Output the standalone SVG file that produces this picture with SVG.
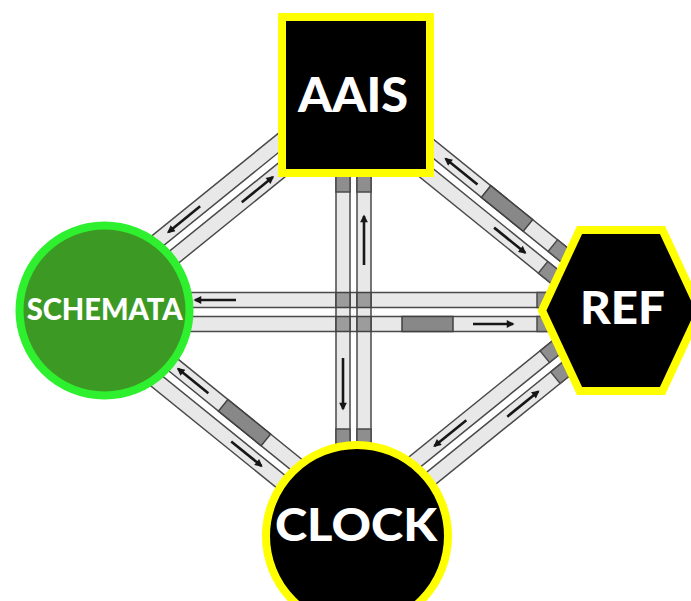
<svg xmlns="http://www.w3.org/2000/svg" width="691" height="601" viewBox="0 0 691 601">
<defs>
<style>
.lane{fill:#e8e8e8;stroke:#4a4a4a;stroke-width:1.5}
.cap{fill:#8e8e8e;stroke:#4a4a4a;stroke-width:1.5}
.blk{fill:#888888;stroke:#404040;stroke-width:1.5}
.xs{fill:#9c9c9c;stroke:#404040;stroke-width:1.5}
.arr{stroke:#161616;stroke-width:2.6;fill:none;marker-end:url(#ah)}
.lbl{font-family:Lato,"Open Sans","Liberation Sans",sans-serif;font-weight:900;fill:#ffffff;text-anchor:middle}
.ynode{fill:#000000;stroke:#ffff00;stroke-width:8}
</style>
<marker id="ah" viewBox="0 0 10 10" refX="8" refY="5" markerWidth="3.6" markerHeight="3" orient="auto">
<path d="M0,0 L10,5 L0,10 z" fill="#161616"/>
</marker>
</defs>
<rect width="691" height="601" fill="#ffffff"/>
<g id="connectors">
<g id="link-schemata-ref">
<rect class="lane" x="150" y="292.5" width="400" height="15"/>
<rect class="lane" x="150" y="316.5" width="400" height="15"/>
<rect class="cap" x="537" y="292.5" width="13" height="15"/>
<rect class="cap" x="537" y="316.5" width="13" height="15"/>
<rect class="blk" x="402" y="316.5" width="51" height="15"/>
<line class="arr" x1="236" y1="300" x2="195" y2="300"/>
<line class="arr" x1="473" y1="324" x2="513" y2="324"/>
</g>
<g id="link-aais-clock">
<rect class="lane" x="336" y="170" width="14" height="280"/>
<rect class="lane" x="357" y="170" width="14" height="280"/>
<rect class="cap" x="336" y="170" width="14" height="22"/>
<rect class="cap" x="357" y="170" width="14" height="22"/>
<rect class="cap" x="336" y="429" width="14" height="21"/>
<rect class="cap" x="357" y="429" width="14" height="21"/>
<rect class="xs" x="336" y="292.5" width="14" height="15"/>
<rect class="xs" x="357" y="292.5" width="14" height="15"/>
<rect class="xs" x="336" y="316.5" width="14" height="15"/>
<rect class="xs" x="357" y="316.5" width="14" height="15"/>
<line class="arr" x1="343" y1="358" x2="343" y2="409"/>
<line class="arr" x1="364" y1="265" x2="364" y2="216"/>
</g>
<g id="link-schemata-aais" transform="translate(104,299) rotate(-39)">
<rect class="lane" x="0" y="-19" width="324" height="15"/>
<rect class="lane" x="0" y="4" width="324" height="15"/>
<line class="arr" x1="133" y1="-11.5" x2="92" y2="-11.5"/>
<line class="arr" x1="168" y1="11.5" x2="208" y2="11.5"/>
</g>
<g id="link-aais-ref" transform="translate(356,101) rotate(39)">
<rect class="lane" x="0" y="-19" width="290" height="15"/>
<rect class="lane" x="0" y="4" width="290" height="15"/>
<rect class="cap" x="244" y="-19" width="46" height="15"/>
<rect class="cap" x="250" y="4" width="40" height="15"/>
<rect class="blk" x="158" y="-19" width="54" height="15"/>
<line class="arr" x1="147" y1="-11.5" x2="106" y2="-11.5"/>
<line class="arr" x1="187" y1="11.5" x2="227" y2="11.5"/>
</g>
<g id="link-schemata-clock" transform="translate(104,323.6) rotate(39)">
<rect class="lane" x="0" y="-19" width="326" height="15"/>
<rect class="lane" x="0" y="4" width="326" height="15"/>
<rect class="blk" x="144" y="-19" width="55" height="15"/>
<line class="arr" x1="125" y1="-11.5" x2="86" y2="-11.5"/>
<line class="arr" x1="173" y1="11.5" x2="212" y2="11.5"/>
</g>
<g id="link-clock-ref" transform="translate(357,523.5) rotate(-39)">
<rect class="lane" x="0" y="-19" width="290" height="15"/>
<rect class="lane" x="0" y="4" width="290" height="15"/>
<rect class="cap" x="251" y="-19" width="39" height="15"/>
<rect class="cap" x="246" y="4" width="44" height="15"/>
<line class="arr" x1="150" y1="-11.5" x2="109" y2="-11.5"/>
<line class="arr" x1="184" y1="11.5" x2="224" y2="11.5"/>
</g>
</g>
<g id="node-aais">
<rect class="ynode" x="282" y="17" width="148" height="156"/>
<text class="lbl" x="353" y="112" font-size="47" textLength="110" lengthAdjust="spacingAndGlyphs">AAIS</text>
</g>
<g id="node-schemata">
<circle cx="104.5" cy="310.5" r="85" fill="#3c9a24" stroke="#2ef02e" stroke-width="8"/>
<text class="lbl" x="104.7" y="320" font-size="30" textLength="156" lengthAdjust="spacingAndGlyphs">SCHEMATA</text>
</g>
<g id="node-ref">
<polygon class="ynode" points="542,310.5 579.5,230 662.5,230 700,310.5 662.5,391 579.5,391"/>
<text class="lbl" x="622.5" y="323.5" font-size="46" textLength="85" lengthAdjust="spacingAndGlyphs">REF</text>
</g>
<g id="node-clock">
<circle class="ynode" cx="357" cy="536" r="91"/>
<text class="lbl" x="356" y="541" font-size="46" textLength="162" lengthAdjust="spacingAndGlyphs">CLOCK</text>
</g>
</svg>
